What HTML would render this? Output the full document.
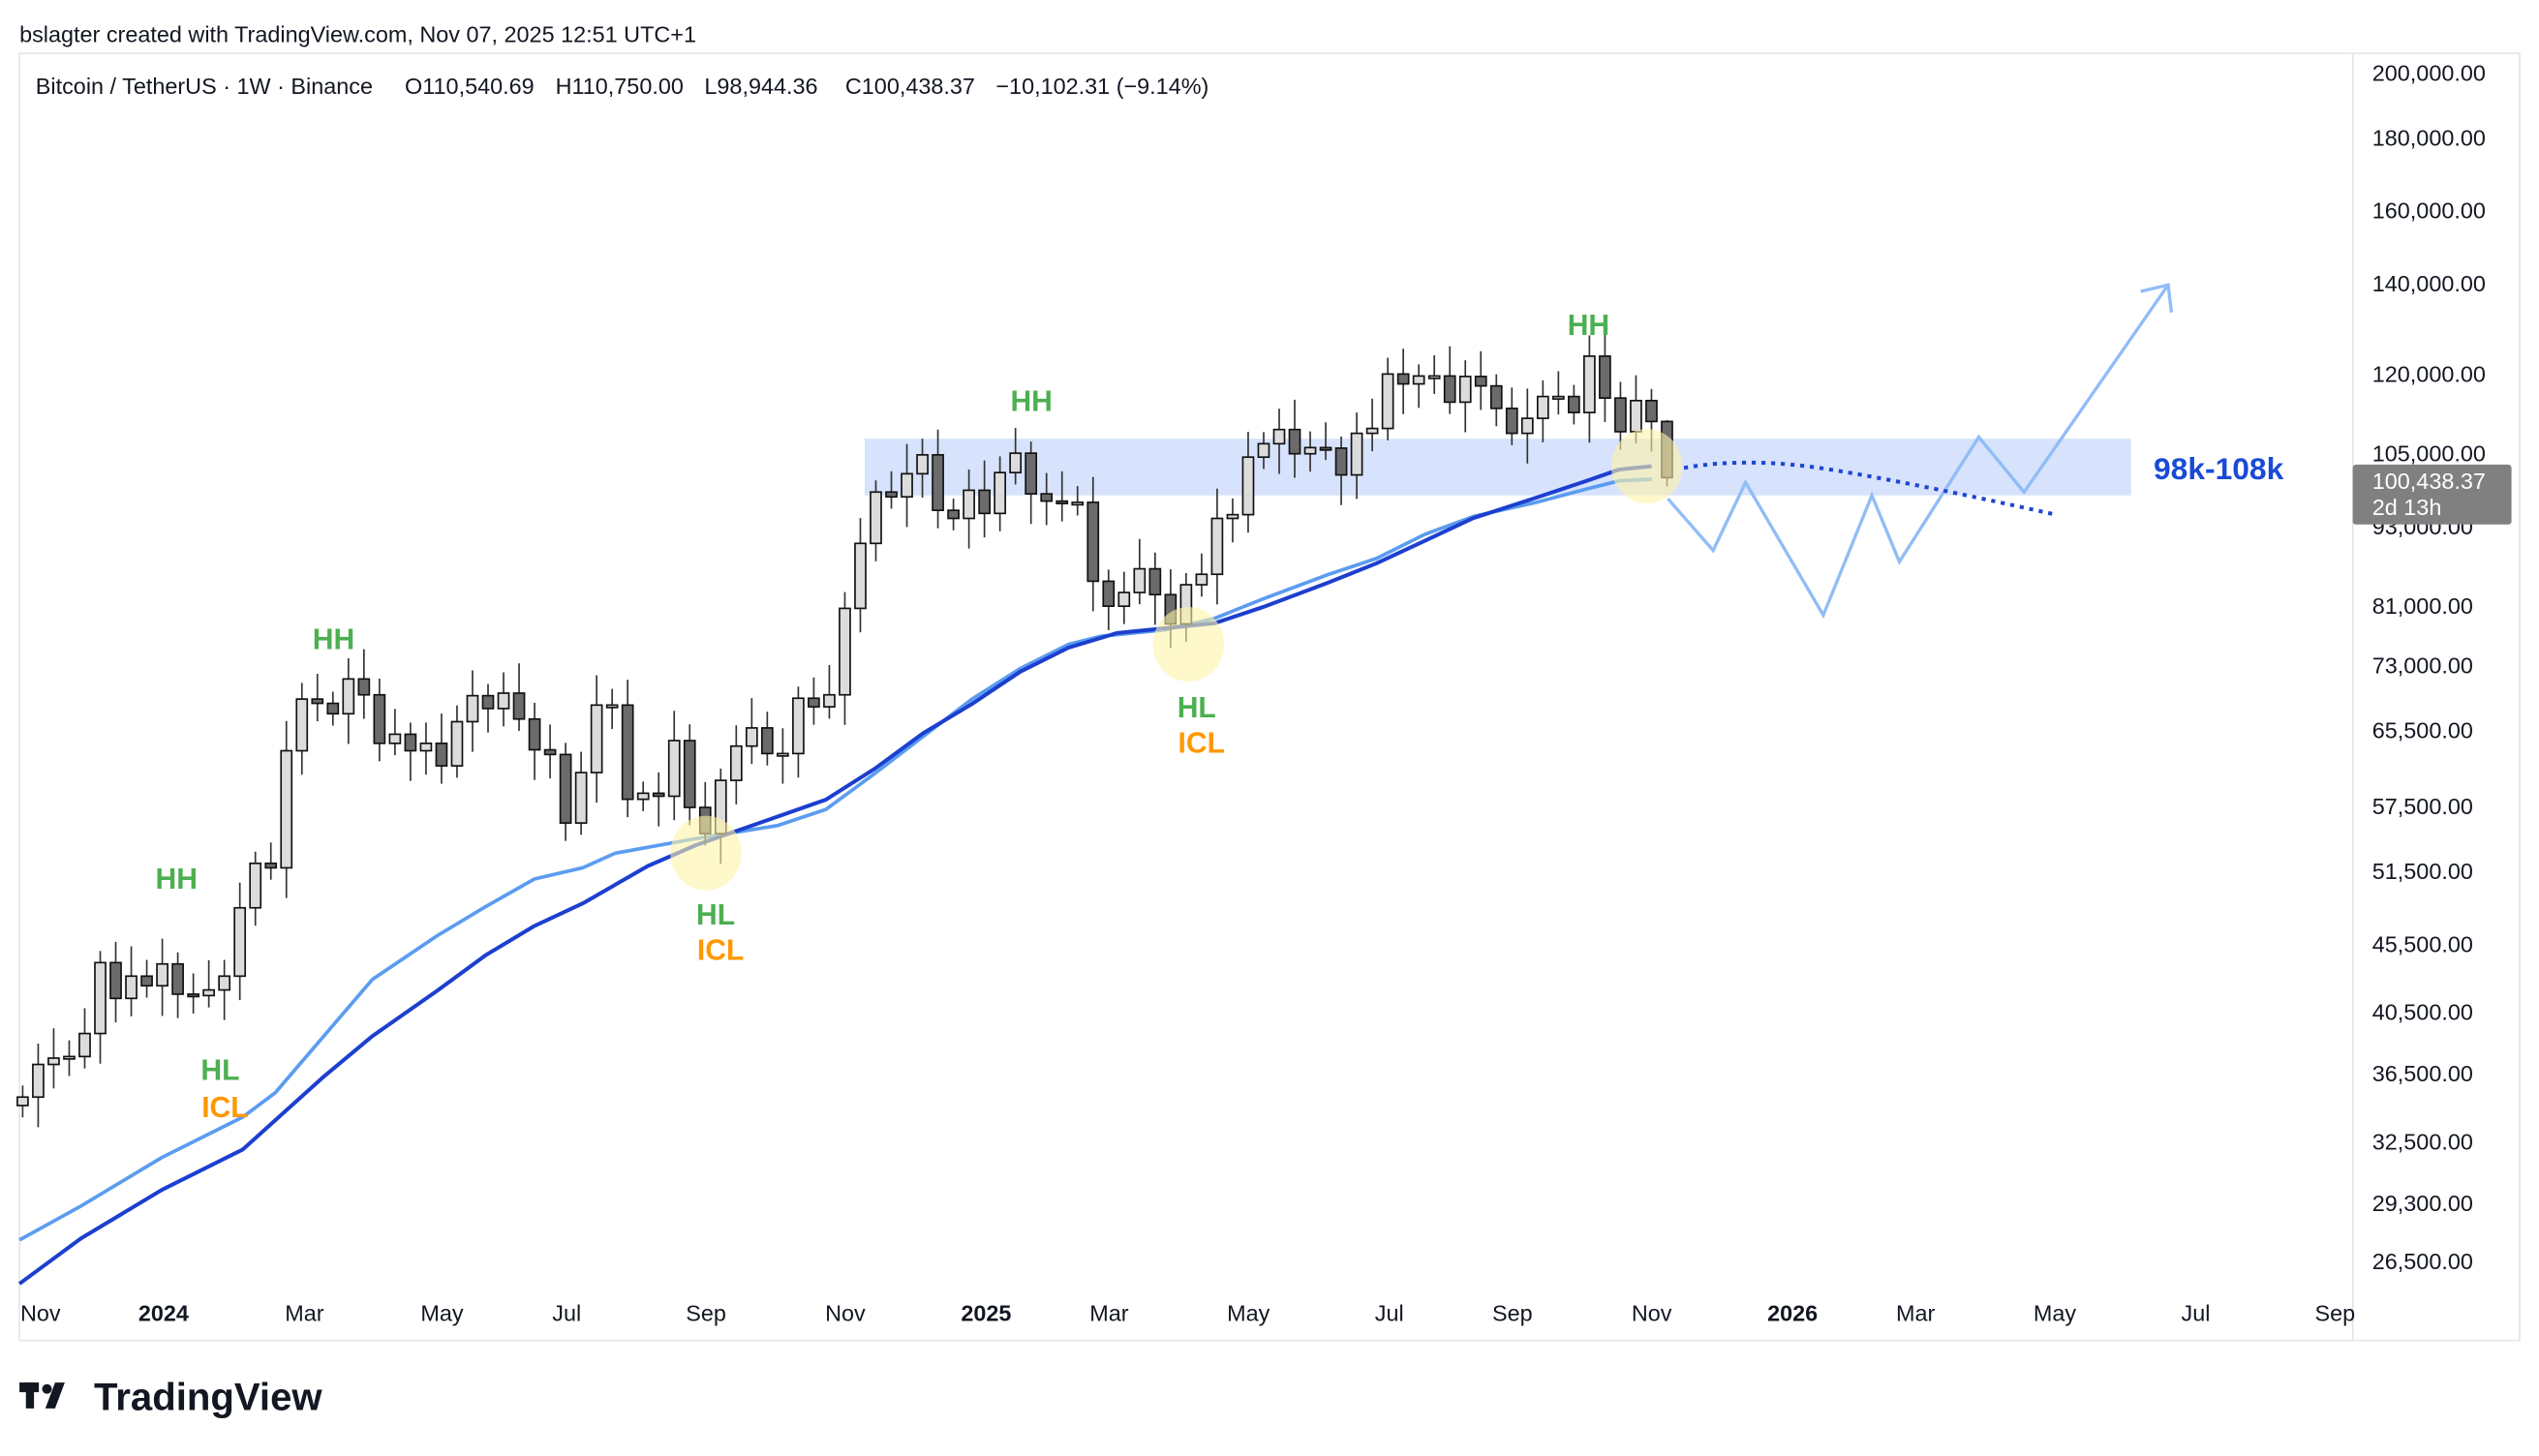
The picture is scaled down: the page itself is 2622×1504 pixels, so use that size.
<!DOCTYPE html>
<html><head><meta charset="utf-8"><style>
html,body{margin:0;padding:0;background:#fff;}
svg{display:block;font-family:"Liberation Sans",sans-serif;}
</style></head><body>
<svg id="s" width="2622" height="1504" viewBox="0 0 1568 899.4" xmlns="http://www.w3.org/2000/svg">
<rect width="1568" height="900" fill="#fff"/>
<text x="12" y="26" font-size="14" fill="#131722">bslagter created with TradingView.com, Nov 07, 2025 12:51 UTC+1</text>
<rect x="12" y="33" width="1544" height="795" fill="none" stroke="#e6e6e6"/>
<line x1="1453" y1="33" x2="1453" y2="828" stroke="#e0e3eb"/>
<g font-size="14" fill="#131722">
<text x="22" y="58">Bitcoin / TetherUS · 1W · Binance</text>
<text x="250" y="58">O110,540.69</text><text x="343" y="58">H110,750.00</text>
<text x="435" y="58">L98,944.36</text><text x="522" y="58">C100,438.37</text>
<text x="615" y="58">−10,102.31 (−9.14%)</text></g>
<rect x="534" y="271" width="782" height="35" fill="#d7e2fc"/>
<g id="ma"></g>
<g id="cd"></g>
<g fill="#fff3a8" fill-opacity="0.6">
<ellipse cx="436" cy="527" rx="22" ry="23"/><ellipse cx="734" cy="398" rx="22" ry="23"/><ellipse cx="1017" cy="288" rx="22" ry="23"/></g>
<polyline points="1030,308 1058,340 1078,298 1126,380 1156,306 1173,347 1222,270 1250,304 1339,176" fill="none" stroke="#90bdf7" stroke-width="2"/>
<polyline points="1322,180 1339,176 1341,193" fill="none" stroke="#90bdf7" stroke-width="2"/>
<path d="M1040,289 Q1080,282 1130,290 T1270,318" fill="none" stroke="#1e46d0" stroke-width="2.4" stroke-dasharray="2.5,3.5"/>
<g font-size="18" font-weight="bold" text-anchor="middle">
<text x="109" y="549" fill="#4caf50">HH</text><text x="136" y="667" fill="#4caf50">HL</text><text x="139" y="690" fill="#ff9800">ICL</text>
<text x="206" y="401" fill="#4caf50">HH</text>
<text x="442" y="571" fill="#4caf50">HL</text><text x="445" y="593" fill="#ff9800">ICL</text>
<text x="637" y="254" fill="#4caf50">HH</text>
<text x="739" y="443" fill="#4caf50">HL</text><text x="742" y="465" fill="#ff9800">ICL</text>
<text x="981" y="207" fill="#4caf50">HH</text>
</g>
<text x="1330" y="296" font-size="19" font-weight="bold" fill="#1a4bd6">98k-108k</text>
<g font-size="14" fill="#131722">
<text x="1465" y="50">200,000.00</text><text x="1465" y="90">180,000.00</text><text x="1465" y="135">160,000.00</text>
<text x="1465" y="180">140,000.00</text><text x="1465" y="236">120,000.00</text><text x="1465" y="285">105,000.00</text>
<text x="1465" y="330">93,000.00</text><text x="1465" y="379">81,000.00</text><text x="1465" y="416">73,000.00</text>
<text x="1465" y="456">65,500.00</text><text x="1465" y="503">57,500.00</text><text x="1465" y="543">51,500.00</text>
<text x="1465" y="588">45,500.00</text><text x="1465" y="630">40,500.00</text><text x="1465" y="668">36,500.00</text>
<text x="1465" y="710">32,500.00</text><text x="1465" y="748">29,300.00</text><text x="1465" y="784">26,500.00</text>
</g>
<rect x="1453" y="287" width="98" height="37" rx="2" fill="#808080"/>
<text x="1465" y="302" font-size="14" fill="#fff">100,438.37</text>
<text x="1465" y="318" font-size="14" fill="#fff">2d 13h</text>
<g font-size="14" fill="#131722" text-anchor="middle">
<text x="25" y="816">Nov</text><text x="101" y="816" font-weight="bold">2024</text><text x="188" y="816">Mar</text>
<text x="273" y="816">May</text><text x="350" y="816">Jul</text><text x="436" y="816">Sep</text><text x="522" y="816">Nov</text>
<text x="609" y="816" font-weight="bold">2025</text><text x="685" y="816">Mar</text><text x="771" y="816">May</text>
<text x="858" y="816">Jul</text><text x="934" y="816">Sep</text><text x="1020" y="816">Nov</text>
<text x="1107" y="816" font-weight="bold">2026</text><text x="1183" y="816">Mar</text><text x="1269" y="816">May</text>
<text x="1356" y="816">Jul</text><text x="1442" y="816">Sep</text>
</g>
<g transform="translate(12,852)"><rect x="0" y="2" width="12" height="6" fill="#131722"/><rect x="4" y="2" width="5" height="16" fill="#131722"/><circle cx="17" cy="6" r="3" fill="#131722"/><path d="M22,2 L28,2 L22,18 L16,18 Z" fill="#131722"/></g>
<text x="58" y="871" font-size="24" font-weight="bold" fill="#131722">TradingView</text>
</svg>
<script>
var closes=[35000,37000,37400,37500,39000,44000,41400,43000,42300,43900,41700,41600,42000,43000,48300,52100,51700,63100,68900,68400,67200,71300,69400,63900,64900,63100,63900,61500,66300,69300,67800,69600,66600,63200,62700,55800,60800,68200,68200,58100,58700,58400,64200,57300,54800,60000,63600,65600,62800,62800,69000,68000,69400,80400,89800,98000,97200,101100,104400,95000,93700,98300,94500,101300,104700,97700,96500,96100,96300,84200,80700,82600,86000,82300,78300,83700,85200,93700,94300,104000,106400,109000,104600,105700,105600,100900,108300,109200,119800,117800,119400,119400,114200,119300,117400,113000,108300,111100,115300,115300,112200,123500,115000,108600,114500,110500,100438];
function Y(p){return 45+(Math.log(200000)-Math.log(p))*363;}
var s='',o=34500;
for(var i=0;i<closes.length;i++){var c=closes[i];var x=14+i*9.58;
var hi=Math.max(o,c)*(1.02+((i*7)%5)*0.008),lo=Math.min(o,c)*(0.98-((i*3)%4)*0.01);
if(i==closes.length-1){hi=110750;lo=98944;}
var up=c>=o;var y1=Y(Math.max(o,c)),y2=Y(Math.min(o,c));if(y2-y1<1.5)y2=y1+1.5;
s+='<line x1="'+x+'" y1="'+Y(hi)+'" x2="'+x+'" y2="'+Y(lo)+'" stroke="#333" stroke-width="1"/>';
s+='<rect x="'+(x-3.3)+'" y="'+y1+'" width="6.6" height="'+(y2-y1)+'" fill="'+(up?'#dcdcdc':'#6b6b6b')+'" stroke="#111" stroke-width="1"/>';
o=c;}
document.getElementById('cd').innerHTML=s;
document.getElementById('ma').innerHTML='<polyline points="12,766 50,745 100,715 150,690 170,675 200,640 230,605 270,578 300,560 330,543 360,536 380,527 430,518 480,510 510,500 540,478 570,455 600,432 630,413 660,398 680,393 720,389 750,382 780,370 820,355 850,345 880,330 910,319 950,310 980,302 1000,297 1020,296" fill="none" stroke="#5b9cf0" stroke-width="2.2" stroke-linejoin="round"/><polyline points="12,793 50,765 100,735 150,710 200,665 230,640 270,612 300,590 330,572 360,558 400,535 430,522 470,508 510,494 540,475 570,453 600,435 630,415 660,400 690,391 720,388 750,385 780,375 820,360 850,348 880,334 910,320 950,307 980,297 1000,290 1020,288" fill="none" stroke="#1c3fcf" stroke-width="2.4" stroke-linejoin="round"/>';
</script>
</body></html>
